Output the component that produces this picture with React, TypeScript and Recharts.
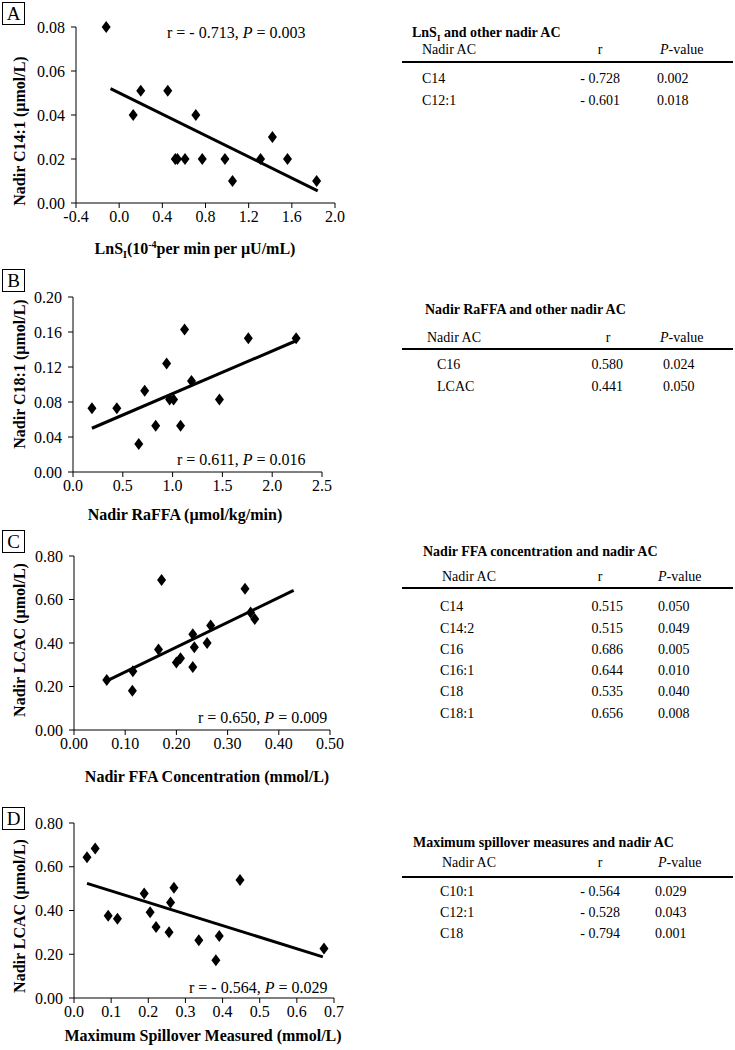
import React from "react";
import { ScatterChart, Scatter, XAxis, YAxis, ReferenceLine } from "recharts";

const SERIF = "'Liberation Serif', 'Times New Roman', serif";

// Panel A: LnSI vs nadir C14:1
const aX = [-0.12, 0.13, 0.2, 0.45, 0.52, 0.54, 0.61, 0.71, 0.77, 0.98, 1.05, 1.31, 1.42, 1.56, 1.83];
const aY = [0.08, 0.04, 0.051, 0.051, 0.02, 0.02, 0.02, 0.04, 0.02, 0.02, 0.01, 0.02, 0.03, 0.02, 0.01];
const aFitX = [-0.08, 1.84];
const aFitY = [0.052, 0.0055];
const aXTicks = [-0.4, 0.0, 0.4, 0.8, 1.2, 1.6, 2.0];
const aYTicks = [0, 0.02, 0.04, 0.06, 0.08];

// Panel B: nadir RaFFA vs nadir C18:1
const bX = [0.19, 0.44, 0.66, 0.72, 0.83, 0.94, 0.97, 1.01, 1.08, 1.12, 1.19, 1.47, 1.76, 2.24];
const bY = [0.073, 0.073, 0.032, 0.093, 0.053, 0.124, 0.083, 0.083, 0.053, 0.163, 0.104, 0.083, 0.153, 0.153];
const bFitX = [0.19, 2.24];
const bFitY = [0.05, 0.15];
const bXTicks = [0, 0.5, 1.0, 1.5, 2.0, 2.5];
const bYTicks = [0, 0.04, 0.08, 0.12, 0.16, 0.2];

// Panel C: nadir FFA concentration vs nadir LCAC
const cX = [0.064, 0.114, 0.115, 0.165, 0.171, 0.2, 0.208, 0.232, 0.232, 0.235, 0.26, 0.267, 0.334, 0.345, 0.353];
const cY = [0.23, 0.18, 0.27, 0.37, 0.69, 0.31, 0.33, 0.44, 0.29, 0.38, 0.4, 0.48, 0.65, 0.54, 0.51];
const cFitX = [0.064, 0.429];
const cFitY = [0.226, 0.642];
const cXTicks = [0, 0.1, 0.2, 0.3, 0.4, 0.5];
const cYTicks = [0, 0.2, 0.4, 0.6, 0.8];

// Panel D: maximum spillover vs nadir LCAC
const dX = [0.035, 0.057, 0.092, 0.117, 0.189, 0.205, 0.221, 0.256, 0.26, 0.269, 0.336, 0.382, 0.391, 0.447, 0.673];
const dY = [0.644, 0.684, 0.376, 0.362, 0.478, 0.392, 0.325, 0.301, 0.437, 0.504, 0.264, 0.173, 0.284, 0.539, 0.226];
const dFitX = [0.035, 0.67];
const dFitY = [0.524, 0.188];
const dXTicks = [0, 0.1, 0.2, 0.3, 0.4, 0.5, 0.6, 0.7];
const dYTicks = [0, 0.2, 0.4, 0.6, 0.8];

// side tables
const tableATitle = "and other nadir AC";
const tableANames = ["C14", "C12:1"];
const tableAR = ["- 0.728", "- 0.601"];
const tableAP = ["0.002", "0.018"];

const tableBTitle = "Nadir RaFFA and other nadir AC";
const tableBNames = ["C16", "LCAC"];
const tableBR = ["0.580", "0.441"];
const tableBP = ["0.024", "0.050"];

const tableCTitle = "Nadir FFA concentration and nadir AC";
const tableCNames = ["C14", "C14:2", "C16", "C16:1", "C18", "C18:1"];
const tableCR = ["0.515", "0.515", "0.686", "0.644", "0.535", "0.656"];
const tableCP = ["0.050", "0.049", "0.005", "0.010", "0.040", "0.008"];

const tableDTitle = "Maximum spillover measures and nadir AC";
const tableDNames = ["C10:1", "C12:1", "C18"];
const tableDR = ["- 0.564", "- 0.528", "- 0.794"];
const tableDP = ["0.029", "0.043", "0.001"];

const Diamond = (props: any) => {
  const { cx, cy } = props;
  if (cx == null || cy == null) return null;
  return (
    <path
      d={`M${cx},${cy - 6}L${cx + 4.5},${cy}L${cx},${cy + 6}L${cx - 4.5},${cy}Z`}
      fill="#000"
    />
  );
};

interface PanelProps {
  top: number;
  plotTop: number;
  plotBottom: number;
  plotLeft: number;
  plotRight: number;
  xs: number[];
  ys: number[];
  fitX: number[];
  fitY: number[];
  xTicks: number[];
  yTicks: number[];
  xDigits: number;
  yDigits: number;
}

function Panel(p: PanelProps) {
  const pts = p.xs.map((x, i) => ({ x, y: p.ys[i] }));
  const rightMargin = 15;
  const xAxisH = 30;
  const marginTop = p.plotTop - p.top;
  const height = p.plotBottom - p.top + xAxisH;
  const width = p.plotRight + rightMargin;
  const tick = { fill: "#000", fontSize: 16, fontFamily: SERIF };
  return (
    <div style={{ position: "absolute", left: 0, top: p.top }}>
      <ScatterChart
        width={width}
        height={height}
        margin={{ top: marginTop, right: rightMargin, bottom: 0, left: 0 }}
      >
        <XAxis
          type="number"
          dataKey="x"
          domain={[p.xTicks[0], p.xTicks[p.xTicks.length - 1]]}
          ticks={p.xTicks}
          tickFormatter={(v: number) => v.toFixed(p.xDigits)}
          height={xAxisH}
          stroke="#000"
          tick={tick}
          tickSize={5}
          tickMargin={3}
          interval={0}
        />
        <YAxis
          type="number"
          dataKey="y"
          domain={[p.yTicks[0], p.yTicks[p.yTicks.length - 1]]}
          ticks={p.yTicks}
          tickFormatter={(v: number) => v.toFixed(p.yDigits)}
          width={p.plotLeft}
          stroke="#000"
          tick={tick}
          tickSize={5}
          tickMargin={6}
          interval={0}
        />
        <ReferenceLine
          segment={[
            { x: p.fitX[0], y: p.fitY[0] },
            { x: p.fitX[1], y: p.fitY[1] },
          ]}
          stroke="#000"
          strokeWidth={3}
        />
        <Scatter data={pts} shape={<Diamond />} isAnimationActive={false} />
      </ScatterChart>
    </div>
  );
}

const abs = (left: number, top: number, extra: React.CSSProperties = {}): React.CSSProperties => ({
  position: "absolute",
  left,
  top,
  fontFamily: SERIF,
  fontSize: 15,
  color: "#000",
  whiteSpace: "nowrap",
  lineHeight: 1,
  ...extra,
});

function LetterBox({ letter, top }: { letter: string; top: number }) {
  return (
    <div
      style={abs(2, top, {
        width: 21,
        height: 21,
        border: "1px solid #000",
        fontSize: 19,
        textAlign: "center",
        lineHeight: "22px",
      })}
    >
      {letter}
    </div>
  );
}

function YLabel({ text, cy }: { text: string; cy: number }) {
  return (
    <div
      style={abs(20, cy, {
        fontWeight: "bold",
        fontSize: 16,
        transform: "translate(-50%, -50%) rotate(-90deg)",
      })}
    >
      {text}
    </div>
  );
}

function XLabel({ children, cx, cy }: { children: React.ReactNode; cx: number; cy: number }) {
  return (
    <div style={abs(cx, cy, { fontWeight: "bold", fontSize: 16, transform: "translate(-50%, -50%)" })}>
      {children}
    </div>
  );
}

function Stat({ r, pv, left, cy }: { r: string; pv: string; left: number; cy: number }) {
  return (
    <div style={abs(left, cy - 7, { fontSize: 16 })}>
      r = {r}, <i>P</i> = {pv}
    </div>
  );
}

interface TableProps {
  title: React.ReactNode;
  titleLeft: number;
  titleY: number;
  headY: number;
  nameHeadLeft: number;
  rHeadX: number;
  pHeadLeft: number;
  ruleY: number;
  rowYs: number[];
  nameLeft: number;
  rRight: number;
  pLeft: number;
  names: string[];
  rs: string[];
  ps: string[];
}

function StatTable(t: TableProps) {
  const fs = 14;
  return (
    <>
      <div style={abs(t.titleLeft, t.titleY - 7, { fontWeight: "bold", fontSize: fs })}>{t.title}</div>
      <div style={abs(t.nameHeadLeft, t.headY - 7, { fontSize: fs })}>Nadir AC</div>
      <div style={abs(t.rHeadX, t.headY - 7, { fontSize: fs, transform: "translateX(-50%)" })}>r</div>
      <div style={abs(t.pHeadLeft, t.headY - 7, { fontSize: fs })}>
        <i>P</i>-value
      </div>
      <div
        style={{ position: "absolute", left: 402, top: t.ruleY - 1, width: 331, height: 2, background: "#000" }}
      />
      {t.names.map((n, i) => (
        <React.Fragment key={n + i}>
          <div style={abs(t.nameLeft, t.rowYs[i] - 7, { fontSize: fs })}>{n}</div>
          <div style={abs(t.rRight, t.rowYs[i] - 7, { fontSize: fs, transform: "translateX(-100%)" })}>
            {t.rs[i]}
          </div>
          <div style={abs(t.pLeft, t.rowYs[i] - 7, { fontSize: fs })}>{t.ps[i]}</div>
        </React.Fragment>
      ))}
    </>
  );
}

export default function App() {
  return (
    <div
      style={{
        position: "absolute",
        left: 0,
        top: 0,
        width: 735,
        height: 1050,
        background: "#fff",
        overflow: "hidden",
      }}
    >
      {/* A */}
      <Panel
        top={0}
        plotTop={27}
        plotBottom={203}
        plotLeft={76}
        plotRight={335}
        xs={aX}
        ys={aY}
        fitX={aFitX}
        fitY={aFitY}
        xTicks={aXTicks}
        yTicks={aYTicks}
        xDigits={1}
        yDigits={2}
      />
      <LetterBox letter="A" top={2} />
      <YLabel text="Nadir C14:1 (µmol/L)" cy={131} />
      <XLabel cx={195} cy={250}>
        LnS<sub style={{ fontSize: 10 }}>I</sub>(10<sup style={{ fontSize: 10 }}>-4</sup>per min per µU/mL)
      </XLabel>
      <Stat r="- 0.713" pv="0.003" left={167} cy={32} />

      {/* B */}
      <Panel
        top={270}
        plotTop={297}
        plotBottom={472}
        plotLeft={73}
        plotRight={322}
        xs={bX}
        ys={bY}
        fitX={bFitX}
        fitY={bFitY}
        xTicks={bXTicks}
        yTicks={bYTicks}
        xDigits={1}
        yDigits={2}
      />
      <LetterBox letter="B" top={269} />
      <YLabel text="Nadir C18:1 (µmol/L)" cy={374} />
      <XLabel cx={185} cy={515}>Nadir RaFFA (µmol/kg/min)</XLabel>
      <Stat r="0.611" pv="0.016" left={177} cy={459} />

      {/* C */}
      <Panel
        top={530}
        plotTop={556}
        plotBottom={730}
        plotLeft={74}
        plotRight={330}
        xs={cX}
        ys={cY}
        fitX={cFitX}
        fitY={cFitY}
        xTicks={cXTicks}
        yTicks={cYTicks}
        xDigits={2}
        yDigits={2}
      />
      <LetterBox letter="C" top={530} />
      <YLabel text="Nadir LCAC (µmol/L)" cy={640} />
      <XLabel cx={207} cy={777}>Nadir FFA Concentration (mmol/L)</XLabel>
      <Stat r="0.650" pv="0.009" left={198} cy={717} />

      {/* D */}
      <Panel
        top={800}
        plotTop={823}
        plotBottom={998}
        plotLeft={74}
        plotRight={334}
        xs={dX}
        ys={dY}
        fitX={dFitX}
        fitY={dFitY}
        xTicks={dXTicks}
        yTicks={dYTicks}
        xDigits={1}
        yDigits={2}
      />
      <LetterBox letter="D" top={807} />
      <YLabel text="Nadir LCAC (µmol/L)" cy={916} />
      <XLabel cx={203} cy={1036}>Maximum Spillover Measured (mmol/L)</XLabel>
      <Stat r="- 0.564" pv="0.029" left={189} cy={987} />

      <StatTable
        title={
          <>
            LnS<sub style={{ fontSize: 9 }}>I</sub> {tableATitle}
          </>
        }
        titleLeft={412}
        titleY={33}
        headY={50}
        nameHeadLeft={422}
        rHeadX={600}
        pHeadLeft={660}
        ruleY={62}
        rowYs={[79, 101]}
        nameLeft={422}
        rRight={620}
        pLeft={657}
        names={tableANames}
        rs={tableAR}
        ps={tableAP}
      />
      <StatTable
        title={tableBTitle}
        titleLeft={425}
        titleY={310}
        headY={338}
        nameHeadLeft={427}
        rHeadX={608}
        pHeadLeft={660}
        ruleY={349}
        rowYs={[365, 387]}
        nameLeft={437}
        rRight={623}
        pLeft={663}
        names={tableBNames}
        rs={tableBR}
        ps={tableBP}
      />
      <StatTable
        title={tableCTitle}
        titleLeft={423}
        titleY={552}
        headY={577}
        nameHeadLeft={442}
        rHeadX={600}
        pHeadLeft={658}
        ruleY={588}
        rowYs={[607, 629, 650, 671, 692, 714]}
        nameLeft={440}
        rRight={623}
        pLeft={658}
        names={tableCNames}
        rs={tableCR}
        ps={tableCP}
      />
      <StatTable
        title={tableDTitle}
        titleLeft={413}
        titleY={843}
        headY={863}
        nameHeadLeft={442}
        rHeadX={600}
        pHeadLeft={658}
        ruleY={877}
        rowYs={[892, 913, 934]}
        nameLeft={440}
        rRight={620}
        pLeft={655}
        names={tableDNames}
        rs={tableDR}
        ps={tableDP}
      />
    </div>
  );
}
